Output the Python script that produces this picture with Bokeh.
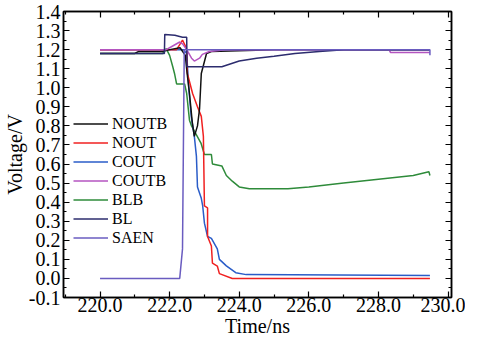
from bokeh.plotting import figure
from bokeh.models import (LinearAxis, FixedTicker, NumeralTickFormatter, Legend, LegendItem)
from bokeh.embed import file_html
from bokeh.resources import INLINE

# ---- data ----
noutb_t = [220.0, 221.0, 221.1, 221.8, 222.0, 222.3, 222.45, 222.5, 222.57, 222.65, 222.71, 222.8, 222.86, 222.91, 223.06, 223.2, 225.0, 229.48]
noutb_v = [1.18, 1.18, 1.19, 1.19, 1.20, 1.21, 1.17, 1.08, 0.97, 0.82, 0.745, 0.80, 0.89, 1.075, 1.18, 1.19, 1.20, 1.20]

nout_t = [220.0, 222.2, 222.37, 222.45, 222.49, 222.51, 222.66, 222.8, 222.91, 222.97, 223.0, 223.09, 223.09, 223.2, 223.23, 223.37, 223.43, 223.8, 229.48]
nout_v = [1.20, 1.20, 1.25, 1.22, 1.20, 1.075, 0.97, 0.90, 0.85, 0.745, 0.38, 0.37, 0.22, 0.17, 0.08, 0.065, 0.025, 0.0, 0.0]

cout_t = [220.0, 222.4, 222.49, 222.55, 222.62, 222.71, 222.77, 222.8, 222.91, 222.95, 223.0, 223.09, 223.2, 223.37, 223.43, 223.63, 223.9, 224.2, 229.48]
cout_v = [1.20, 1.20, 1.18, 1.00, 0.85, 0.745, 0.64, 0.48, 0.42, 0.38, 0.29, 0.22, 0.21, 0.155, 0.10, 0.066, 0.03, 0.02, 0.015]

coutb_t = [220.0, 221.9, 222.05, 222.29, 222.37, 222.49, 222.63, 222.71, 222.86, 222.94, 223.14, 223.6, 228.3, 228.35, 229.48]
coutb_v = [1.20, 1.20, 1.215, 1.24, 1.23, 1.20, 1.155, 1.14, 1.155, 1.175, 1.19, 1.20, 1.20, 1.185, 1.185]

blb_t = [220.0, 221.8, 221.9, 222.0, 222.09, 222.14, 222.2, 222.43, 222.49, 222.57, 222.63, 222.75, 222.9, 223.0, 223.2, 223.23, 223.5, 223.63, 223.8, 224.0, 224.29, 225.4, 226.0, 227.0, 228.0, 229.0, 229.45, 229.48]
blb_v = [1.18, 1.18, 1.205, 1.17, 1.11, 1.075, 1.02, 1.02, 0.97, 0.83, 0.80, 0.76, 0.71, 0.65, 0.65, 0.60, 0.59, 0.54, 0.51, 0.48, 0.47, 0.47, 0.48, 0.50, 0.52, 0.54, 0.56, 0.54]

bl_t = [220.0, 221.85, 221.86, 222.15, 222.37, 222.49, 222.5, 223.5, 224.0, 224.5, 225.0, 225.6, 226.3, 227.0, 229.48]
bl_v = [1.18, 1.18, 1.28, 1.275, 1.265, 1.265, 1.11, 1.11, 1.14, 1.155, 1.165, 1.18, 1.19, 1.20, 1.20]

saen_t = [220.0, 222.29, 222.37, 222.42, 229.48, 229.48]
saen_v = [0.0, 0.0, 0.155, 1.20, 1.20, 1.17]

x_ticks = [220.0, 222.0, 224.0, 226.0, 228.0, 230.0]
x_minor = [219.0, 221.0, 223.0, 225.0, 227.0, 229.0]
y_ticks = [-0.1, 0.0, 0.1, 0.2, 0.3, 0.4, 0.5, 0.6, 0.7, 0.8, 0.9, 1.0, 1.1, 1.2, 1.3, 1.4]
y_minor = [-0.05, 0.05, 0.15, 0.25, 0.35, 0.45, 0.55, 0.65, 0.75, 0.85, 0.95, 1.05, 1.15, 1.25, 1.35]

x_title = "Time/ns"
y_title = "Voltage/V"

FONT = "Liberation Serif"

p = figure(width=465, height=339, x_range=(218.95, 230.1), y_range=(-0.1, 1.4),
           output_backend="svg", toolbar_location=None,
           min_border_left=60, min_border_top=11, min_border_right=14, min_border_bottom=40,
           x_axis_label=x_title, y_axis_label=y_title)
p.grid.visible = False
p.outline_line_color = "black"
p.outline_line_width = 1.5
p.background_fill_color = "white"
p.border_fill_color = "white"

xt = FixedTicker(ticks=x_ticks, minor_ticks=x_minor)
yt = FixedTicker(ticks=y_ticks, minor_ticks=y_minor)

def style(ax, labels=True):
    ax.axis_line_color = "black"
    ax.axis_line_width = 1.5
    ax.major_tick_in = 6
    ax.major_tick_out = 0
    ax.minor_tick_in = 3
    ax.minor_tick_out = 0
    ax.major_tick_line_width = 1.2
    ax.minor_tick_line_width = 1.2
    ax.major_tick_line_color = "black"
    ax.minor_tick_line_color = "black"
    ax.major_label_text_font = FONT
    ax.major_label_text_font_size = "20px"
    ax.major_label_text_color = "black"
    ax.axis_label_text_font = FONT
    ax.axis_label_text_font_size = "20px"
    ax.axis_label_text_font_style = "normal"
    ax.axis_label_text_color = "black"
    if not labels:
        ax.major_label_text_alpha = 0
        ax.major_label_text_font_size = "0px"
        ax.axis_label = None

p.xaxis.ticker = xt
p.yaxis.ticker = yt
p.xaxis.formatter = NumeralTickFormatter(format="0.0")
p.yaxis.formatter = NumeralTickFormatter(format="0.0")
style(p.xaxis[0])
style(p.yaxis[0])
p.xaxis.major_label_standoff = 0
p.xaxis.axis_label_standoff = 0
p.yaxis.major_label_standoff = 3
p.yaxis.axis_label_standoff = 0

top = LinearAxis(ticker=xt)
style(top, labels=False)
p.add_layout(top, "above")
right = LinearAxis(ticker=yt)
style(right, labels=False)
p.add_layout(right, "right")

LW = 1.5
r_blb = p.line(blb_t, blb_v, line_color="#2e8b3a", line_width=LW)
r_cout = p.line(cout_t, cout_v, line_color="#2a5cc8", line_width=LW)
r_nout = p.line(nout_t, nout_v, line_color="#f02020", line_width=LW)
r_noutb = p.line(noutb_t, noutb_v, line_color="#111111", line_width=LW)
r_coutb = p.line(coutb_t, coutb_v, line_color="#b455c0", line_width=LW)
r_bl = p.line(bl_t, bl_v, line_color="#2c2c6e", line_width=LW)
r_saen = p.line(saen_t, saen_v, line_color="#6a5cc0", line_width=LW)

legend = Legend(items=[
    LegendItem(label="NOUTB", renderers=[r_noutb]),
    LegendItem(label="NOUT", renderers=[r_nout]),
    LegendItem(label="COUT", renderers=[r_cout]),
    LegendItem(label="COUTB", renderers=[r_coutb]),
    LegendItem(label="BLB", renderers=[r_blb]),
    LegendItem(label="BL", renderers=[r_bl]),
    LegendItem(label="SAEN", renderers=[r_saen]),
], location=(10, 50))
legend.border_line_alpha = 0
legend.background_fill_alpha = 0
legend.padding = 0
legend.margin = 0
legend.spacing = 0
legend.glyph_width = 35
legend.glyph_height = 19
legend.label_height = 19
legend.label_standoff = 4
legend.label_text_font = FONT
legend.label_text_font_size = "16px"
legend.label_text_color = "black"
p.add_layout(legend, "center")

open("out.html", "w").write(file_html(p, INLINE))
